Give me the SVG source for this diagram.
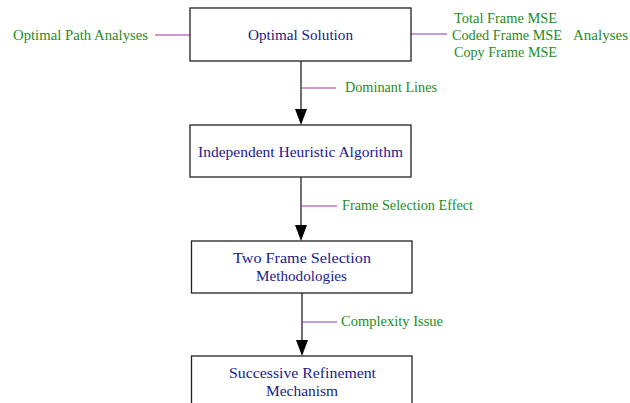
<svg xmlns="http://www.w3.org/2000/svg" width="630" height="403" viewBox="0 0 630 403">
<style>
.box{fill:#fff;stroke:#222;stroke-width:1.3}
.nt{font-family:"Liberation Serif",serif;font-size:15px;fill:#1a1a8c}
.lt{font-family:"Liberation Serif",serif;font-size:14.3px;fill:#1e8c1e}
.stub{stroke:#9933a0;stroke-width:1.2;fill:none}
.edge{stroke:#222;stroke-width:1.3;fill:none}
.head{fill:#000}
</style>
<g id="connectors">
<line class="edge" x1="301" y1="61" x2="301" y2="112"/>
<path class="head" d="M295,109 L307,109 L301,125 Z"/>
<line class="edge" x1="301" y1="177" x2="301" y2="228"/>
<path class="head" d="M295,225 L307,225 L301,241 Z"/>
<line class="edge" x1="302" y1="293" x2="302" y2="343"/>
<path class="head" d="M296,340 L308,340 L302,356 Z"/>
<line class="stub" x1="155" y1="35" x2="190" y2="35"/>
<line class="stub" x1="411" y1="34" x2="447" y2="34"/>
<line class="stub" x1="301" y1="88" x2="336" y2="88"/>
<line class="stub" x1="301" y1="206" x2="337" y2="206"/>
<line class="stub" x1="302" y1="322" x2="337" y2="322"/>
</g>
<g id="n1">
<rect class="box" x="190" y="8" width="221" height="53"/>
<text class="nt" x="248" y="40" textLength="105" lengthAdjust="spacingAndGlyphs">Optimal Solution</text>
</g>
<g id="n2">
<rect class="box" x="190" y="125" width="221" height="52"/>
<text class="nt" x="198" y="157" textLength="205" lengthAdjust="spacingAndGlyphs">Independent Heuristic Algorithm</text>
</g>
<g id="n3">
<rect class="box" x="191.5" y="241" width="220.5" height="52"/>
<text class="nt" x="233" y="263" textLength="138" lengthAdjust="spacingAndGlyphs">Two Frame Selection</text>
<text class="nt" x="256" y="281" textLength="91" lengthAdjust="spacingAndGlyphs">Methodologies</text>
</g>
<g id="n4">
<rect class="box" x="191.5" y="356" width="220.5" height="52"/>
<text class="nt" x="229" y="378" textLength="147" lengthAdjust="spacingAndGlyphs">Successive Refinement</text>
<text class="nt" x="266" y="396" textLength="72" lengthAdjust="spacingAndGlyphs">Mechanism</text>
</g>
<g id="labels">
<text class="lt" x="13" y="39.5" textLength="135" lengthAdjust="spacingAndGlyphs">Optimal Path Analyses</text>
<text class="lt" x="454" y="23" textLength="103" lengthAdjust="spacingAndGlyphs">Total Frame MSE</text>
<text class="lt" x="452" y="40" textLength="110" lengthAdjust="spacingAndGlyphs">Coded Frame MSE</text>
<text class="lt" x="573" y="40" textLength="55" lengthAdjust="spacingAndGlyphs">Analyses</text>
<text class="lt" x="454" y="57" textLength="103" lengthAdjust="spacingAndGlyphs">Copy Frame MSE</text>
<text class="lt" x="345" y="92" textLength="92" lengthAdjust="spacingAndGlyphs">Dominant Lines</text>
<text class="lt" x="342" y="210" textLength="131" lengthAdjust="spacingAndGlyphs">Frame Selection Effect</text>
<text class="lt" x="341" y="326" textLength="102" lengthAdjust="spacingAndGlyphs">Complexity Issue</text>
</g>
</svg>
